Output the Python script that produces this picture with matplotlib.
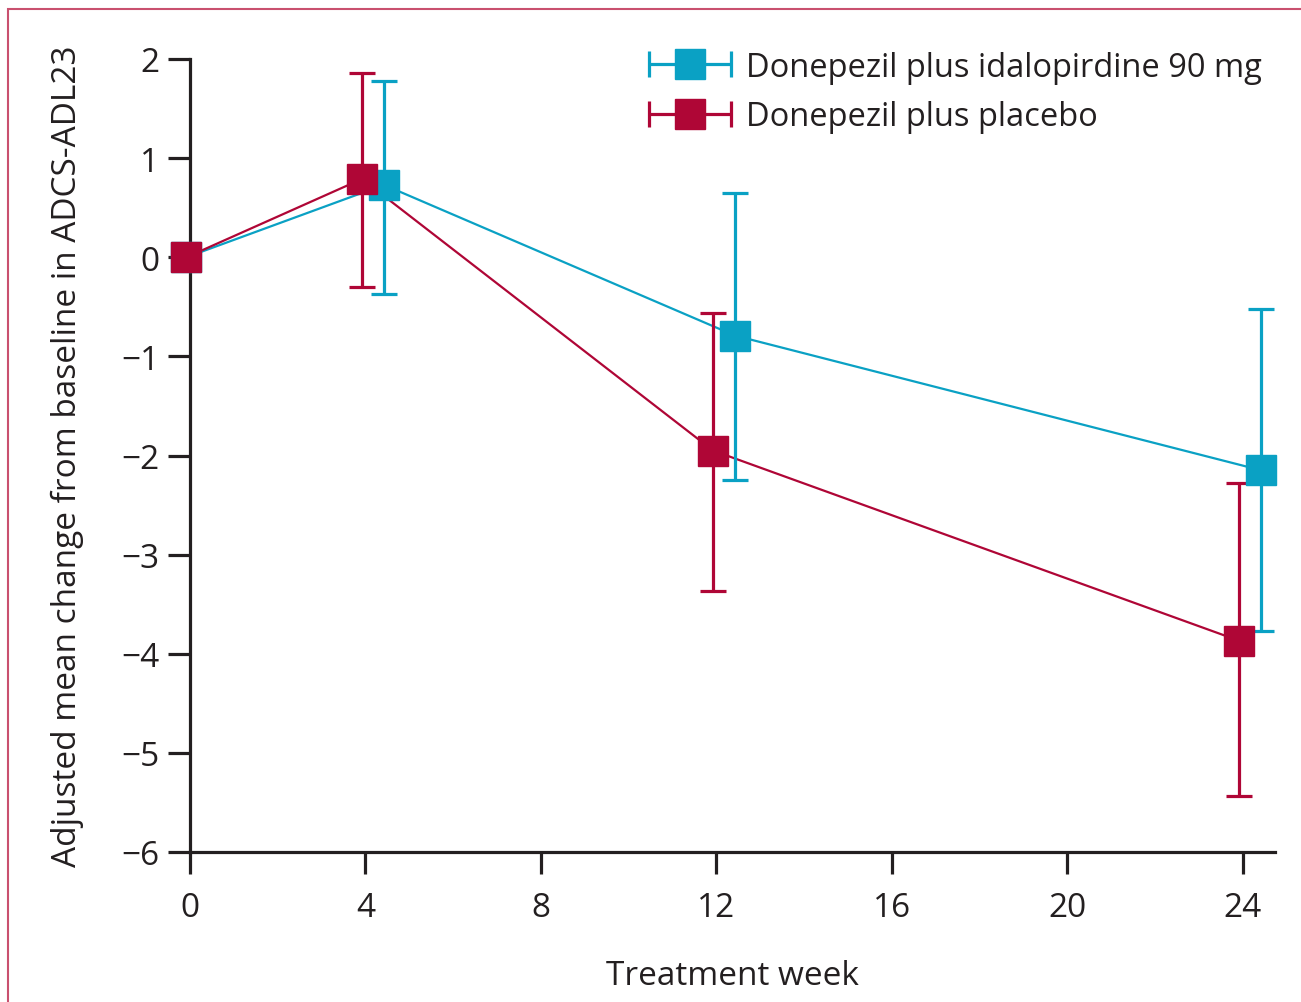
import matplotlib
matplotlib.use("Agg")
import matplotlib.pyplot as plt
from matplotlib.patches import Rectangle
from matplotlib.lines import Line2D
from matplotlib.collections import LineCollection
from matplotlib.container import ErrorbarContainer
from matplotlib.legend_handler import HandlerErrorbar
import numpy as np

weeks = [0, 4, 12, 24]
ida_mean = [0.0, 0.73, -0.79, -2.15]
ida_lo = [0.0, -0.37, -2.25, -3.77]
ida_hi = [0.0, 1.78, 0.65, -0.52]
pla_mean = [0.0, 0.79, -1.95, -3.87]
pla_lo = [0.0, -0.30, -3.37, -5.44]
pla_hi = [0.0, 1.86, -0.56, -2.28]
labels = ["Donepezil plus idalopirdine 90 mg", "Donepezil plus placebo"]
xticks = [0, 4, 8, 12, 16, 20, 24]
yticks = [2, 1, 0, -1, -2, -3, -4, -5, -6]

BLUE = "#0AA1C4"
RED = "#AF0636"
TXT = "#231F20"

plt.rcParams['font.family'] = ['Open Sans', 'DejaVu Sans']

fig = plt.figure(figsize=(13.01, 10.03), dpi=100)
ax = fig.add_axes([190/1301, 1-853/1003, (1275-190)/1301, (853-60)/1003])

# frame border around figure
fig.patches.append(Rectangle((8/1301, -0.1), 1.2, 1 - 10/1003 + 0.1, transform=fig.transFigure,
                             fill=False, edgecolor="#C9506F", linewidth=1.5))

w = np.array(weeks, dtype=float)
series = [
    (w[1:] + 0.42, ida_mean, ida_lo, ida_hi, BLUE, labels[0], -0.08),
    (w[1:] - 0.08, pla_mean, pla_lo, pla_hi, RED, labels[1], -0.08),
]
handles = []
for xs_rest, m, lo, hi, col, lab, x0off in series:
    xs = np.concatenate([[w[0] + x0off], xs_rest])
    m = np.array(m); lo = np.array(lo); hi = np.array(hi)
    ax.plot(xs, m, color=col, lw=1.6, zorder=3, clip_on=False)
    ax.errorbar(xs[1:], m[1:], yerr=[m[1:] - lo[1:], hi[1:] - m[1:]], fmt='none',
                ecolor=col, elinewidth=2.3, capsize=9.5, capthick=2.3, zorder=4, clip_on=False)
    ax.plot(xs, m, linestyle='none', marker='s', markersize=21, color=col, zorder=5, clip_on=False)
    dl = Line2D([], [], marker='s', ls='none', color=col, markersize=21)
    cap = Line2D([], [], marker='|', ls='none', color=col, markersize=19, markeredgewidth=2.3)
    bar = LineCollection([], colors=col, linewidths=2.3)
    handles.append(ErrorbarContainer((dl, (cap, cap), (bar,)), has_xerr=True, has_yerr=False,
                                     label=lab))

ax.set_xlim(0, 24.73)
ax.set_ylim(-6, 2)
ax.set_xticks(xticks)
ax.set_yticks(yticks)
ax.set_yticklabels([str(t).replace('-', '\u2212') for t in yticks])
for s in ['top', 'right']:
    ax.spines[s].set_visible(False)
for s in ['left', 'bottom']:
    ax.spines[s].set_linewidth(2.3)
    ax.spines[s].set_color(TXT)
ax.tick_params(axis='both', direction='out', length=16, width=2.3, colors=TXT,
               labelsize=24, pad=6)
ax.tick_params(axis='x', pad=12)
ax.set_xlabel("Treatment week", fontsize=24, color=TXT, labelpad=25)
ax.set_ylabel("Adjusted mean change from baseline in ADCS-ADL23", fontsize=24, color=TXT, labelpad=27)

leg = ax.legend(handles=handles, loc='upper right', bbox_to_anchor=(1.0, 1.027), frameon=False,
                fontsize=23.5, handlelength=2.55, handletextpad=0.45, labelspacing=0.5,
                borderaxespad=0.0,
                handler_map={ErrorbarContainer: HandlerErrorbar(xerr_size=1.25)})
for t in leg.get_texts():
    t.set_color(TXT)

fig.savefig("out.png", dpi=100)
